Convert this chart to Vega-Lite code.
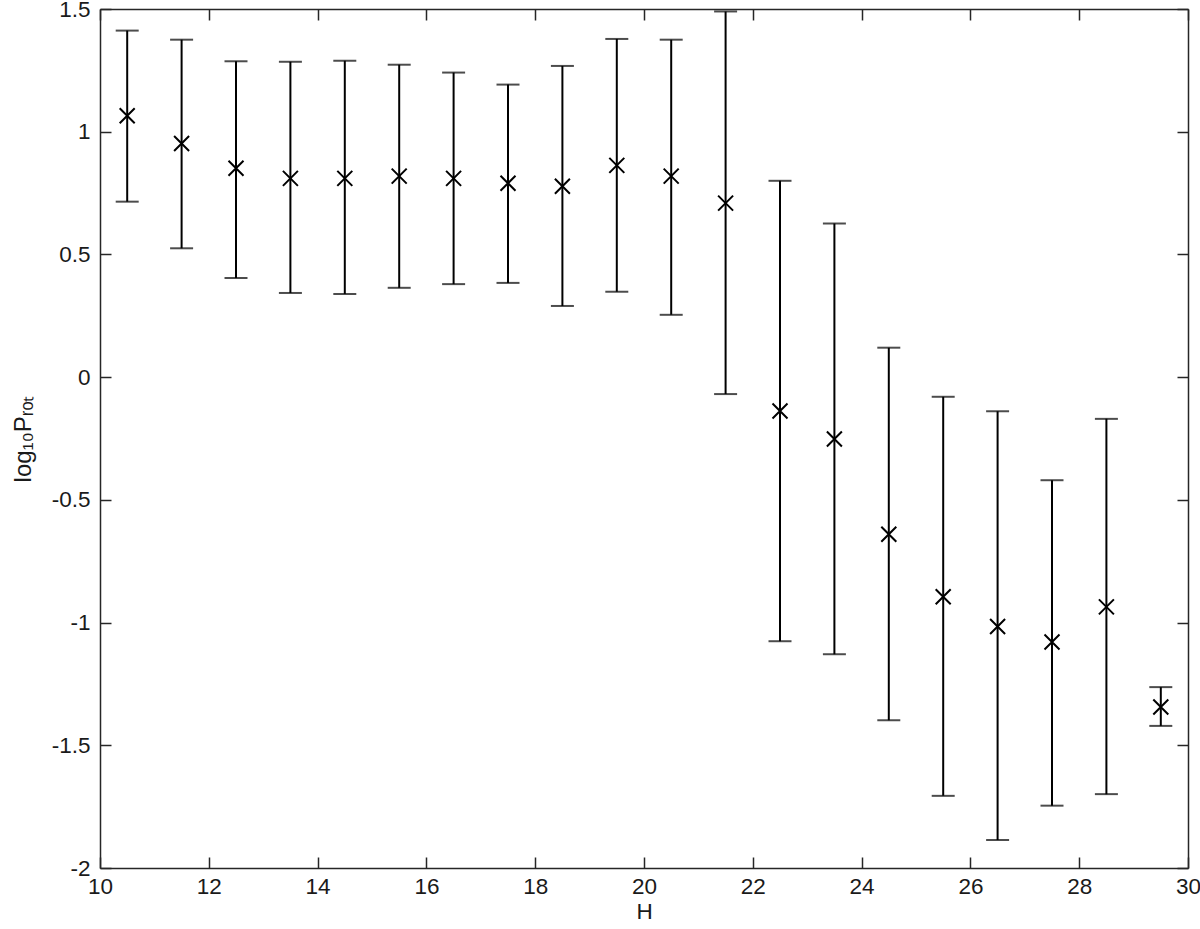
{
  "$schema": "https://vega.github.io/schema/vega-lite/v6.json",
  "width": 1088,
  "height": 859,
  "autosize": {"type": "none"},
  "padding": {"left": 100, "top": 9, "right": 12, "bottom": 61},
  "background": "white",
  "config": {
    "view": {"stroke": null},
    "axis": {
      "domainColor": "#262626",
      "domainWidth": 1.5,
      "tickColor": "#262626",
      "tickWidth": 1.5,
      "tickSize": -11,
      "grid": false,
      "labelFlush": false,
      "labelOverlap": false,
      "labelFont": "Liberation Sans",
      "labelFontSize": 22.5,
      "labelColor": "#1a1a1a",
      "titleFont": "Liberation Sans",
      "titleFontSize": 22.5,
      "titleFontWeight": "normal",
      "titleColor": "#1a1a1a"
    }
  },
  "data": {
    "values": [
      {"H": 10.5, "mean": 1.065, "low": 0.715, "high": 1.412},
      {"H": 11.5, "mean": 0.952, "low": 0.525, "high": 1.375},
      {"H": 12.5, "mean": 0.851, "low": 0.404, "high": 1.287},
      {"H": 13.5, "mean": 0.81, "low": 0.343, "high": 1.285},
      {"H": 14.5, "mean": 0.81, "low": 0.339, "high": 1.289},
      {"H": 15.5, "mean": 0.819, "low": 0.364, "high": 1.273},
      {"H": 16.5, "mean": 0.81, "low": 0.379, "high": 1.241},
      {"H": 17.5, "mean": 0.79, "low": 0.384, "high": 1.192},
      {"H": 18.5, "mean": 0.778, "low": 0.29, "high": 1.268},
      {"H": 19.5, "mean": 0.863, "low": 0.348, "high": 1.378},
      {"H": 20.5, "mean": 0.819, "low": 0.254, "high": 1.375},
      {"H": 21.5, "mean": 0.709, "low": -0.069, "high": 1.49},
      {"H": 22.5, "mean": -0.138, "low": -1.076, "high": 0.8},
      {"H": 23.5, "mean": -0.252, "low": -1.129, "high": 0.626},
      {"H": 24.5, "mean": -0.64, "low": -1.398, "high": 0.12},
      {"H": 25.5, "mean": -0.895, "low": -1.706, "high": -0.08},
      {"H": 26.5, "mean": -1.016, "low": -1.886, "high": -0.139},
      {"H": 27.5, "mean": -1.079, "low": -1.746, "high": -0.42},
      {"H": 28.5, "mean": -0.936, "low": -1.699, "high": -0.17},
      {"H": 29.5, "mean": -1.344, "low": -1.421, "high": -1.263}
    ]
  },
  "layer": [
    {
      "mark": {"type": "rule", "color": "black", "strokeWidth": 2},
      "encoding": {
        "x": {
          "field": "H", "type": "quantitative",
          "scale": {"domain": [10, 30], "nice": false, "zero": false},
          "axis": {"orient": "bottom", "values": [10, 12, 14, 16, 18, 20, 22, 24, 26, 28, 30], "labelPadding": 18, "title": "H", "titlePadding": 3, "labelExpr": "'' + datum.value"}
        },
        "y": {
          "field": "low", "type": "quantitative",
          "scale": {"domain": [-2, 1.5], "nice": false, "zero": false},
          "axis": {"orient": "left", "values": [-2, -1.5, -1, -0.5, 0, 0.5, 1, 1.5], "labelPadding": 21, "title": "log₁₀Pᵣₒₜ", "titleFontSize": 24, "titlePadding": 16, "labelExpr": "'' + datum.value"}
        },
        "y2": {"field": "high"}
      }
    },
    {
      "mark": {"type": "tick", "orient": "horizontal", "color": "black", "size": 23, "thickness": 2},
      "encoding": {
        "x": {"field": "H", "type": "quantitative", "axis": {"orient": "top", "values": [10, 12, 14, 16, 18, 20, 22, 24, 26, 28, 30], "labels": false, "title": null}},
        "y": {"field": "low", "type": "quantitative", "axis": {"orient": "right", "values": [-2, -1.5, -1, -0.5, 0, 0.5, 1, 1.5], "labels": false, "title": null}}
      }
    },
    {
      "mark": {"type": "tick", "orient": "horizontal", "color": "black", "size": 23, "thickness": 2},
      "encoding": {
        "x": {"field": "H", "type": "quantitative", "axis": null},
        "y": {"field": "high", "type": "quantitative", "axis": null}
      }
    },
    {
      "mark": {"type": "point", "shape": "M-1,-1L1,1M-1,1L1,-1", "size": 225, "color": "black", "strokeWidth": 2, "filled": false, "opacity": 1},
      "encoding": {
        "x": {"field": "H", "type": "quantitative", "axis": null},
        "y": {"field": "mean", "type": "quantitative", "axis": null}
      }
    }
  ],
  "resolve": {"axis": {"x": "independent", "y": "independent"}}
}
